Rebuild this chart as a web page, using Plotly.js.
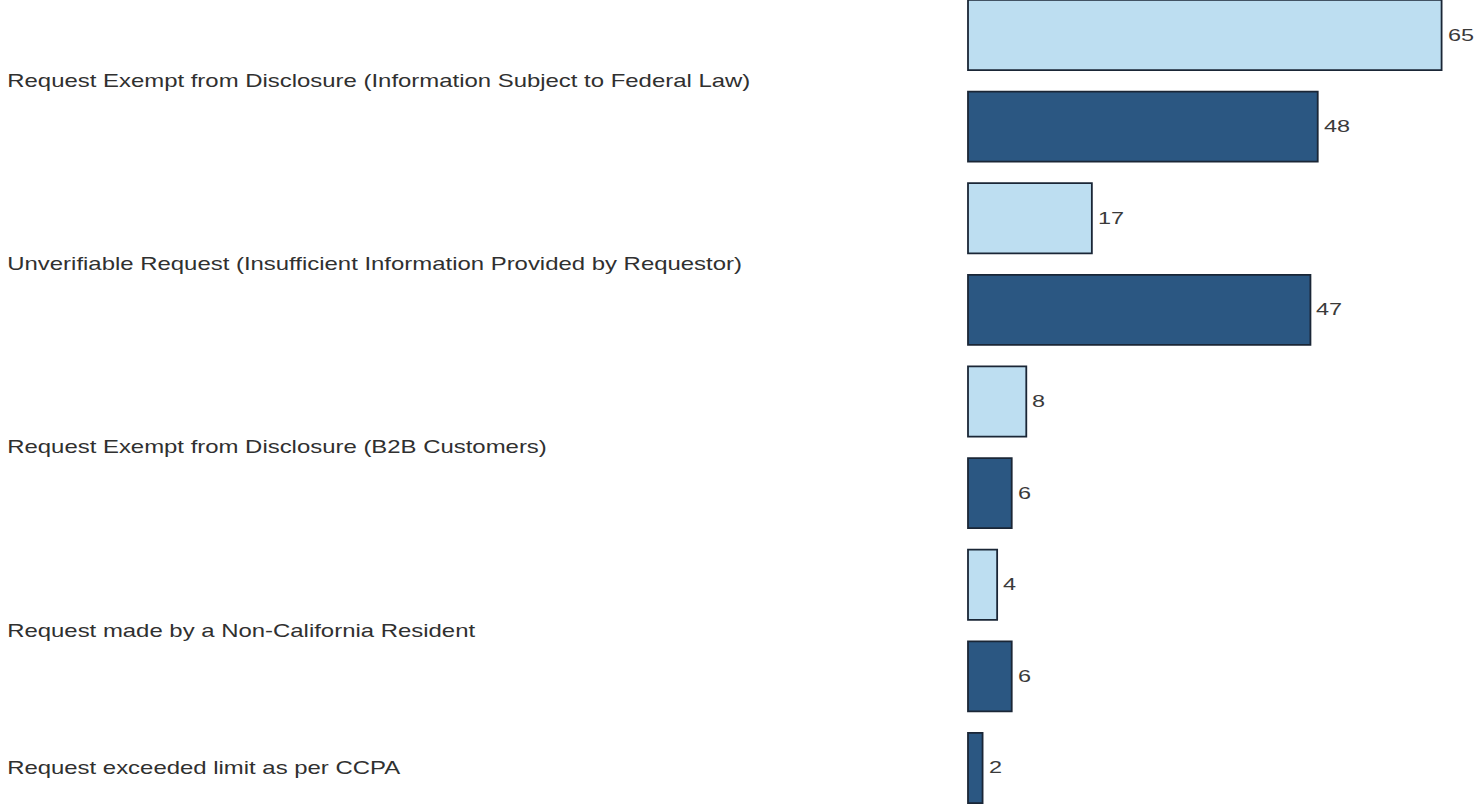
<!DOCTYPE html>
<html>
<head>
<meta charset="utf-8">
<script src="https://cdn.plot.ly/plotly-3.0.1.min.js"></script>
<style>
html,body{margin:0;padding:0;background:#fff;}
#chart{width:1478px;height:807px;}
#chart .annotation-text{transform-box:fill-box;transform-origin:0% 50%;}
#chart .lbl-cat .annotation-text{transform:scaleX(1.33);}
#chart .lbl-val .annotation-text{transform:scaleX(1.38);}
</style>
</head>
<body>
<div id="chart"></div>
<script>
const categories = [
  "Request Exempt from Disclosure (Information Subject to Federal Law)",
  "Unverifiable Request (Insufficient Information Provided by Requestor)",
  "Request Exempt from Disclosure (B2B Customers)",
  "Request made by a Non-California Resident",
  "Request exceeded limit as per CCPA"
];
const lightValues = [65, 17, 8, 4, null];
const darkValues = [48, 47, 6, 6, 2];

// assign sequential slot positions to each bar, group label at slot mean
const lightPos = [], lightX = [], darkPos = [], darkX = [], groupCenters = [];
let slot = 0;
categories.forEach((c, i) => {
  const slots = [];
  if (lightValues[i] !== null) { lightPos.push(slot); lightX.push(lightValues[i]); slots.push(slot); slot++; }
  if (darkValues[i] !== null) { darkPos.push(slot); darkX.push(darkValues[i]); slots.push(slot); slot++; }
  groupCenters.push(slots.reduce((a, b) => a + b, 0) / slots.length);
});

const outline = {color: '#1a2636', width: 1.8};

const traces = [
  {type: 'bar', orientation: 'h', x: lightX, y: lightPos, width: 0.765,
   marker: {color: '#BDDEF1', line: outline}, hoverinfo: 'x'},
  {type: 'bar', orientation: 'h', x: darkX, y: darkPos, width: 0.765,
   marker: {color: '#2B5782', line: outline}, hoverinfo: 'x'}
];

const L = 960, W = 1478;
const plotW = W - L;
const pxPerUnit = 7.286;
const x0 = -(968 - L) / pxPerUnit;
const x1 = x0 + plotW / pxPerUnit;

const catFont = {family: 'Liberation Sans, Arial, sans-serif', size: 18, color: '#303030'};
const valFont = {family: 'Liberation Sans, Arial, sans-serif', size: 17, color: '#3a3a3a'};

const annotations = categories.map((c, i) => ({
  xref: 'paper', yref: 'y', x: -(L - 5) / plotW, y: groupCenters[i],
  xanchor: 'left', yanchor: 'middle', text: c, showarrow: false,
  font: catFont, name: 'cat'
}));
lightX.forEach((v, i) => annotations.push({
  xref: 'x', yref: 'y', x: v, y: lightPos[i], xanchor: 'left', yanchor: 'middle',
  xshift: 4, text: String(v), showarrow: false, font: valFont, name: 'val'
}));
darkX.forEach((v, i) => annotations.push({
  xref: 'x', yref: 'y', x: v, y: darkPos[i], xanchor: 'left', yanchor: 'middle',
  xshift: 4, text: String(v), showarrow: false, font: valFont, name: 'val'
}));

const layout = {
  width: 1478, height: 807,
  margin: {l: L, r: 0, t: 0, b: 0, pad: 0},
  paper_bgcolor: '#fff', plot_bgcolor: '#fff',
  showlegend: false, barmode: 'overlay',
  xaxis: {range: [x0, x1], visible: false, fixedrange: true},
  yaxis: {range: [8 + 39 / 91.6, -35 / 91.6], visible: false, fixedrange: true},
  annotations: annotations
};

Plotly.newPlot('chart', traces, layout, {displayModeBar: false, staticPlot: true}).then(gd => {
  const groups = gd.querySelectorAll('.annotation');
  groups.forEach((g, i) => {
    g.classList.add(i < categories.length ? 'lbl-cat' : 'lbl-val');
  });
});
</script>
</body>
</html>
